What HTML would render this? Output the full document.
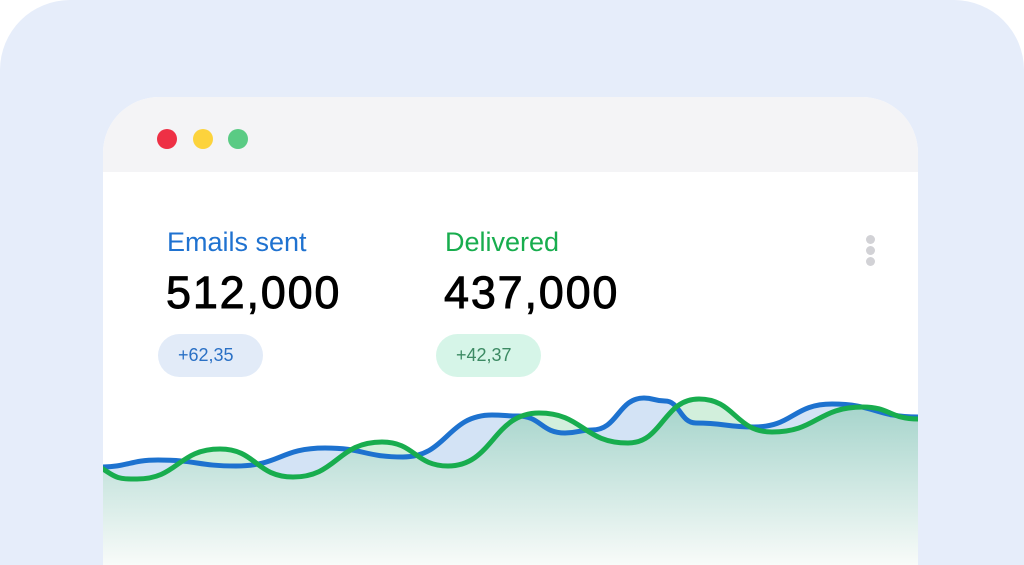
<!DOCTYPE html>
<html><head><meta charset="utf-8"><style>
html,body{margin:0;padding:0;background:#fff;width:1024px;height:565px;overflow:hidden;}
.wrap{position:relative;width:1024px;height:565px;overflow:hidden;background:#fff;font-family:"Liberation Sans",sans-serif;}
.bg{position:absolute;left:0;top:0;width:1024px;height:565px;background:#e6edfa;border-radius:70px 70px 0 0;}
.win{position:absolute;left:103px;top:97px;width:815px;height:468px;background:#fff;border-radius:56px 56px 0 0;overflow:hidden;}
.bar{position:absolute;left:0;top:0;width:815px;height:75px;background:#f4f4f6;}
.dot{position:absolute;top:32px;width:20px;height:20px;border-radius:50%;}
.t{position:absolute;white-space:nowrap;}
.pill{position:absolute;height:43px;width:105px;border-radius:22px;font-size:18px;line-height:43px;text-indent:20px;}
.k{position:absolute;left:763px;width:9px;height:9px;border-radius:50%;background:#d2d2d6;}
</style></head><body><div class="wrap">
<div class="bg"></div>
<div class="win">
 <div class="bar"></div>
 <div class="dot" style="left:54px;background:#ee3045"></div>
 <div class="dot" style="left:90px;background:#fcd33c"></div>
 <div class="dot" style="left:125px;background:#5acb84"></div>
 <div class="t" style="left:64px;top:130px;font-size:27px;color:#1f72d0">Emails sent</div>
 <div class="t" style="left:63px;top:170px;font-size:45px;letter-spacing:1.8px;color:#000;-webkit-text-stroke:0.9px #000">512,000</div>
 <div class="t" style="left:342px;top:130px;font-size:27px;color:#18ad4e">Delivered</div>
 <div class="t" style="left:341px;top:170px;font-size:45px;letter-spacing:1.8px;color:#000;-webkit-text-stroke:0.9px #000">437,000</div>
 <div class="pill" style="left:55px;top:237px;background:#e2ebf8;color:#2a70c5">+62,35</div>
 <div class="pill" style="left:333px;top:237px;background:#d6f5e8;color:#3c8a63">+42,37</div>
 <div class="k" style="top:138px"></div><div class="k" style="top:149px"></div><div class="k" style="top:160px"></div>
</div>
<svg width="1024" height="565" style="position:absolute;left:0;top:0">
<defs>
<linearGradient id="g2" x1="0" y1="400" x2="0" y2="565" gradientUnits="userSpaceOnUse"><stop offset="0" stop-color="#a3d3ca"/><stop offset="1" stop-color="#f8fbf9"/></linearGradient>
<clipPath id="cw"><rect x="103" y="300" width="815" height="265"/></clipPath>
<clipPath id="cb"><path d="M100,467 C129,467 129,460 158,460 C197,460 197,466 236,466 C280,466 280,448 325,448 C364,448 364,457 403,457 C447,457 447,415 492,415 C505,415 505,416 518,416 C541,416 541,433 565,433 C578,433 578,430 592,430 C618,430 618,398 644,398 C654,398 654,401 665,401 C680,401 680,423 696,423 C725,423 725,427 754,427 C793,427 793,404 832,404 C875,404 875,417 918,417 L918,565 L100,565 Z"/></clipPath>
<clipPath id="cg"><path d="M100,467 C118,479 118,479 137,479 C178,479 178,449 220,449 C256,449 256,477 293,477 C337,477 337,442 382,442 C415,442 415,466 448,466 C493,466 493,413 539,413 C583,413 583,443 628,443 C663,443 663,399 699,399 C735,399 735,432 772,432 C817,432 817,407 863,407 C890,407 890,419 918,419 L918,565 L100,565 Z"/></clipPath>
</defs>
<g clip-path="url(#cw)">
<g clip-path="url(#cb)"><rect x="100" y="380" width="818" height="185" fill="#d3e3f5"/></g>
<g clip-path="url(#cg)"><rect x="100" y="380" width="818" height="185" fill="#d2efdc"/></g>
<g clip-path="url(#cb)"><g clip-path="url(#cg)"><rect x="100" y="380" width="818" height="185" fill="url(#g2)"/></g></g>
<path fill="none" stroke="#1d72cf" stroke-width="5" d="M100,467 C129,467 129,460 158,460 C197,460 197,466 236,466 C280,466 280,448 325,448 C364,448 364,457 403,457 C447,457 447,415 492,415 C505,415 505,416 518,416 C541,416 541,433 565,433 C578,433 578,430 592,430 C618,430 618,398 644,398 C654,398 654,401 665,401 C680,401 680,423 696,423 C725,423 725,427 754,427 C793,427 793,404 832,404 C875,404 875,417 918,417"/>
<path fill="none" stroke="#18ad4e" stroke-width="5" d="M100,467 C118,479 118,479 137,479 C178,479 178,449 220,449 C256,449 256,477 293,477 C337,477 337,442 382,442 C415,442 415,466 448,466 C493,466 493,413 539,413 C583,413 583,443 628,443 C663,443 663,399 699,399 C735,399 735,432 772,432 C817,432 817,407 863,407 C890,407 890,419 918,419"/>
</g>
</svg>
</div></body></html>
